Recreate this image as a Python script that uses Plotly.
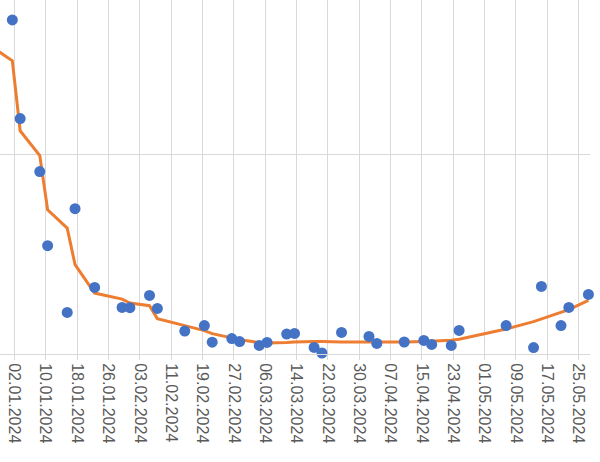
import pandas as pd
import plotly.graph_objects as go

# Measured points (dates and values)
point_dates = ["2024-01-01", "2024-01-03", "2024-01-08", "2024-01-10", "2024-01-15", "2024-01-17",
               "2024-01-22", "2024-01-29", "2024-01-31", "2024-02-05", "2024-02-07", "2024-02-14",
               "2024-02-19", "2024-02-21", "2024-02-26", "2024-02-28", "2024-03-04", "2024-03-06",
               "2024-03-11", "2024-03-13", "2024-03-18", "2024-03-20", "2024-03-25", "2024-04-01",
               "2024-04-03", "2024-04-10", "2024-04-15", "2024-04-17", "2024-04-22", "2024-04-24",
               "2024-05-06", "2024-05-13", "2024-05-15", "2024-05-20", "2024-05-22", "2024-05-27"]
point_values = [167.2, 117.8, 91.3, 54.2, 20.8, 72.7,
                33.3, 23.3, 23.2, 29.3, 22.8, 11.5,
                14.2, 5.9, 7.7, 6.2, 4.3, 5.8,
                10.0, 10.3, 3.3, 0.5, 10.8, 8.8,
                5.3, 6.0, 6.8, 4.8, 4.3, 11.8,
                14.2, 3.2, 33.8, 14.2, 23.3, 29.8]

# Trend line (orange) values
trend_dates = ["2023-12-27"] + point_dates
trend_values = [153.4, 146.7, 111.7, 99.3, 72.2, 63.0, 44.7,
                30.5, 27.5, 25.5, 24.2, 17.7, 14.2,
                11.7, 10.2, 8.3, 7.2, 5.7, 5.5,
                5.7, 6.0, 6.2, 6.3, 6.0, 6.0,
                5.9, 6.0, 6.3, 6.4, 6.9, 7.4,
                12.5, 16.2, 17.5, 20.9, 22.2, 26.8]

tick_start = "2024-01-02"
tick_days = 8

half_day = pd.Timedelta(hours=12)
px_pts = pd.to_datetime(point_dates) + half_day
px_trend = pd.to_datetime(trend_dates) + half_day

t0 = pd.Timestamp(tick_start)
x_min = t0 - pd.Timedelta(days=3.65)
x_max = t0 + pd.Timedelta(days=146.9)
tickvals = pd.date_range(t0, x_max, freq=f"{tick_days}D")

fig = go.Figure()
fig.add_trace(go.Scatter(x=px_trend, y=trend_values, mode="lines",
                         line=dict(color="#ED7D31", width=3), hoverinfo="skip"))
fig.add_trace(go.Scatter(x=px_pts, y=point_values, mode="markers",
                         marker=dict(color="#4472C4", size=11), cliponaxis=False))

fig.update_layout(
    width=600, height=462,
    margin=dict(l=0, r=10, t=0, b=108),
    paper_bgcolor="white", plot_bgcolor="white",
    showlegend=False,
    font=dict(family="Liberation Sans", size=16, color="#595959"),
)
fig.update_xaxes(
    type="date", range=[x_min, x_max],
    tickmode="array", tickvals=tickvals,
    ticktext=[d.strftime("%d.%m.%Y") for d in tickvals],
    tickangle=90, ticks="outside", ticklen=5, tickcolor="#d9d9d9",
    showgrid=True, gridcolor="#d9d9d9", gridwidth=1,
    showline=True, linecolor="#d9d9d9", linewidth=1,
    zeroline=False, automargin=False,
    tickfont=dict(family="Liberation Sans", size=16, color="#595959"),
)
fig.update_yaxes(
    range=[0, 177.15], tickmode="linear", tick0=0, dtick=100,
    showticklabels=False, showgrid=True, gridcolor="#d9d9d9", gridwidth=1,
    zeroline=False, showline=False, automargin=False,
)

fig.write_html("out.html")
